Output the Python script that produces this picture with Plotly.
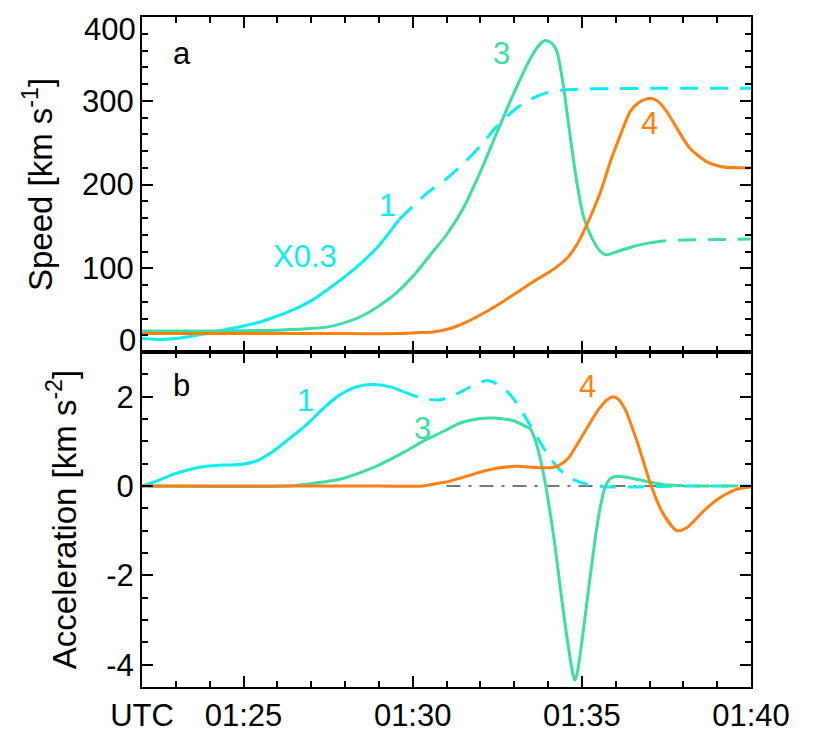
import plotly.graph_objects as go

# ---------------- data (time in minutes after 01:00 UTC) ----------------
# Panel a: speed [km/s]
t_v1_solid = [22.0, 22.5, 23.0, 23.5, 24.0, 24.5, 25.0, 25.5, 26.0, 26.5, 27.0, 27.5, 28.0, 28.5, 29.0, 29.6]
v1_solid = [16, 15, 16, 19, 23, 27, 31, 36, 43, 51, 61, 75, 90, 107, 127, 158]
t_v1_dash = [29.6, 30.0, 30.5, 31.0, 31.5, 32.0, 32.5, 33.0, 33.5, 34.0, 34.5, 35.0, 36.0, 38.0, 40.0]
v1_dash = [158, 174, 192, 207, 225, 246, 270, 289, 302, 310, 313, 314, 314.5, 315, 315]

t_v3_solid = [22.0, 24.0, 25.0, 26.0, 26.5, 27.0, 27.5, 28.0, 28.5, 29.0, 29.5, 30.0, 30.5, 31.0, 31.5,
              32.0, 32.5, 33.0, 33.5, 33.75, 33.91, 34.1, 34.26, 34.45, 34.65, 34.85, 35.04, 35.3,
              35.55, 35.74, 36.04, 36.52, 36.96]
v3_solid = [25, 25, 25.5, 26, 27, 28, 30, 35, 43, 55, 70, 90, 115, 140, 172,
            215, 263, 310, 352, 367, 372, 369, 359, 319, 259, 203, 163, 136,
            120, 116, 120, 126, 130]
t_v3_dash = [36.96, 37.5, 38.5, 39.5, 40.0]
v3_dash = [130, 133, 134, 134.5, 135]

t_v4 = [22.0, 25.0, 28.0, 29.62, 30.1, 30.6, 31.1, 31.6, 32.08, 32.58, 33.08, 33.56, 34.06, 34.56,
        34.85, 35.15, 35.55, 35.84, 36.14, 36.43, 36.73, 37.02, 37.26, 37.51, 37.81, 38.2, 38.7,
        39.18, 40.0]
v4 = [22, 22, 22, 22, 23, 24, 28, 36, 46, 58, 71, 84, 96, 112,
      128, 152, 191, 227, 259, 287, 299, 303, 299, 287, 267, 243, 227,
      221, 220]

# Panel b: acceleration [km/s^2]
t_a1_solid = [22.0, 22.43, 22.92, 23.41, 23.91, 24.4, 24.89, 25.38, 25.88, 26.37, 26.86, 27.36,
              27.85, 28.34, 28.83, 29.33, 29.7]
a1_solid = [0.0, 0.11, 0.26, 0.37, 0.44, 0.47, 0.48, 0.56, 0.78, 1.07, 1.37, 1.74,
            2.04, 2.22, 2.27, 2.22, 2.12]
t_a1_dash = [29.7, 30.31, 30.81, 31.3, 31.79, 32.2, 32.58, 32.9, 33.27, 33.67, 34.06, 34.3,
             34.65, 35.15, 35.74, 36.52, 38.0, 40.0]
a1_dash = [2.12, 1.96, 1.93, 2.06, 2.25, 2.36, 2.25, 2.03, 1.62, 1.1, 0.63, 0.4,
           0.18, 0.04, -0.02, -0.02, 0.0, 0.0]

t_a3_solid = [22.0, 26.4, 26.86, 27.85, 28.83, 29.3, 29.8, 30.3, 30.9, 31.4, 31.9, 32.4, 32.98,
              33.3, 33.47, 33.6, 33.77, 33.91, 34.0, 34.2, 34.4, 34.6, 34.72, 34.79, 34.86,
              35.0, 35.2, 35.4, 35.55, 35.7, 35.85, 36.05, 36.5, 37.0, 37.5]
a3_solid = [0.0, 0.0, 0.04, 0.15, 0.41, 0.58, 0.78, 1.0, 1.22, 1.41, 1.5, 1.52, 1.46,
            1.35, 1.28, 1.08, 0.62, 0.1, -0.3, -1.3, -2.5, -3.6, -4.15, -4.35, -4.2,
            -3.5, -2.3, -1.15, -0.45, 0.0, 0.17, 0.22, 0.17, 0.09, 0.02]
t_a3_dash = [37.5, 38.5, 40.0]
a3_dash = [0.02, 0.0, 0.0]

t_a4 = [22.0, 29.0, 30.31, 30.6, 31.1, 31.6, 32.08, 32.58, 33.08, 33.57, 34.06, 34.3, 34.6,
        34.9, 35.2, 35.5, 35.75, 35.93, 36.1, 36.3, 36.63, 37.07, 37.41, 37.81, 38.11, 38.6, 39.09,
        39.59, 40.0]
a4 = [0.0, 0.0, 0.0, 0.04, 0.11, 0.22, 0.33, 0.41, 0.44, 0.42, 0.41, 0.45, 0.62,
      0.98, 1.36, 1.72, 1.93, 2.0, 1.93, 1.68, 1.0, -0.04, -0.63, -1.0, -0.93, -0.56, -0.26,
      -0.07, -0.02]

t_zero = [31.0, 40.0]
zero_line = [0, 0]

# axes
x_tickvals = [22, 25, 30, 35, 40]
x_ticktext = ["UTC", "01:25", "01:30", "01:35", "01:40"]
speed_tickvals = [0, 100, 200, 300, 400]
speed_ticktext = ["0", "100", "200", "300", "400"]
acc_tickvals = [-4, -2, 0, 2]
acc_ticktext = ["-4", "-2", "0", "2"]

# ---------------- style ----------------
CYAN = "#0AEEF2"
GREEN = "#3EDDA2"
ORANGE = "#FF7F10"
FONT = "Liberation Sans, Arial, sans-serif"
FS = 31
LW = 3

fig = go.Figure()

def line(x, y, color, xa, ya, dash="solid", width=LW):
    fig.add_trace(go.Scatter(x=x, y=y, mode="lines", xaxis=xa, yaxis=ya,
                             line=dict(color=color, width=width, dash=dash, shape="spline", smoothing=0.7),
                             showlegend=False, hoverinfo="skip"))

# panel a
line(t_v1_solid, v1_solid, CYAN, "x", "y")
line(t_v1_dash, v1_dash, CYAN, "x", "y", dash="18px,12px")
line(t_v3_solid, v3_solid, GREEN, "x", "y")
line(t_v3_dash, v3_dash, GREEN, "x", "y", dash="18px,12px")
line(t_v4, v4, ORANGE, "x", "y")

# panel b
fig.add_trace(go.Scatter(x=t_zero, y=zero_line, mode="lines", xaxis="x2", yaxis="y2",
                         line=dict(color="#777777", width=2, dash="14px,8px,3px,8px"),
                         showlegend=False, hoverinfo="skip"))
line(t_a1_solid, a1_solid, CYAN, "x2", "y2")
line(t_a1_dash, a1_dash, CYAN, "x2", "y2", dash="16px,12px")
line(t_a3_solid, a3_solid, GREEN, "x2", "y2")
line(t_a3_dash, a3_dash, GREEN, "x2", "y2", dash="16px,12px")
line(t_a4, a4, ORANGE, "x2", "y2")

axis_common = dict(showline=True, linecolor="black", linewidth=2, mirror="ticks",
                   ticks="inside", ticklen=11, tickwidth=2, tickcolor="black",
                   showgrid=False, zeroline=False,
                   tickfont=dict(family=FONT, size=FS, color="black"))
minor_common = dict(ticks="inside", ticklen=6, tickwidth=2, tickcolor="black")

# the page body adds an 8 px offset, so the figure is 8 px smaller on each axis
fig.update_layout(
    width=807, height=741,
    margin=dict(l=134, r=64, t=7, b=62),
    paper_bgcolor="white", plot_bgcolor="white",
    font=dict(family=FONT, size=FS, color="black"),
    xaxis=dict(domain=[0, 1], anchor="y", range=[22, 40], tickvals=x_tickvals,
               showticklabels=False, minor=dict(dtick=1, **minor_common), **axis_common),
    yaxis=dict(domain=[0.5, 1], anchor="x", range=[0, 400], tickvals=speed_tickvals[1:4],
               ticktext=speed_ticktext[1:4], minor=dict(dtick=20, **minor_common),
               title=dict(text="Speed [km s<sup>-1</sup>]", standoff=20,
                          font=dict(family=FONT, size=33, color="black")),
               **axis_common),
    xaxis2=dict(domain=[0, 1], anchor="y2", range=[22, 40], tickvals=x_tickvals,
                ticktext=x_ticktext, minor=dict(dtick=1, **minor_common), **axis_common),
    yaxis2=dict(domain=[0, 0.5], anchor="x2", range=[-4.5, 3], tickvals=acc_tickvals,
                ticktext=acc_ticktext, minor=dict(dtick=0.5, **minor_common),
                title=dict(text="Acceleration [km s<sup>-2</sup>]", standoff=20,
                           font=dict(family=FONT, size=33, color="black")),
                **axis_common),
)

ann = []
def text(x, y, s, color, xref="x", yref="y", size=FS):
    ann.append(dict(x=x, y=y, xref=xref, yref=yref, text=s, showarrow=False,
                    font=dict(family=FONT, size=size, color=color)))

# end labels of the speed axis, drawn inward as in the original
ann.append(dict(x=0, y=speed_tickvals[0], xref="paper", yref="y", text=speed_ticktext[0],
                showarrow=False, xanchor="right", xshift=-4, yshift=12,
                font=dict(family=FONT, size=FS, color="black")))
ann.append(dict(x=0, y=speed_tickvals[-1], xref="paper", yref="y", text=speed_ticktext[-1],
                showarrow=False, xanchor="right", xshift=-4, yshift=-12,
                font=dict(family=FONT, size=FS, color="black")))

text(23.17, 357, "a", "black")
text(29.27, 175, "1", CYAN)
text(26.81, 114, "X0.3", CYAN)
text(32.64, 356, "3", GREEN)
text(36.99, 273, "4", ORANGE)

text(23.17, 2.24, "b", "black", "x2", "y2")
text(26.84, 1.91, "1", CYAN, "x2", "y2")
text(30.30, 1.29, "3", GREEN, "x2", "y2")
text(35.16, 2.22, "4", ORANGE, "x2", "y2")

fig.update_layout(annotations=ann)

fig.write_html("out.html")
